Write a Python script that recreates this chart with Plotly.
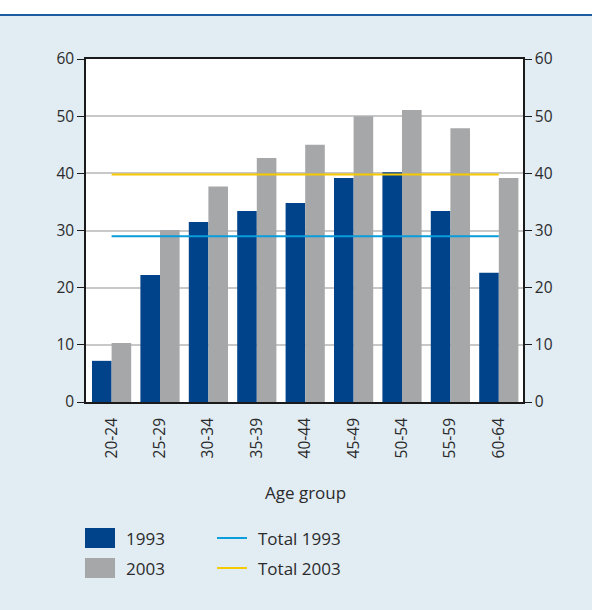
import plotly.graph_objects as go

categories = ["20-24", "25-29", "30-34", "35-39", "40-44", "45-49", "50-54", "55-59", "60-64"]
values_1993 = [7.2, 22.2, 31.5, 33.4, 34.8, 39.2, 40.2, 33.4, 22.6]
values_2003 = [10.3, 30.1, 37.7, 42.7, 45.0, 50.0, 51.1, 47.9, 39.2]
total_1993 = 29.0
total_2003 = 39.8
y_ticks = [0, 10, 20, 30, 40, 50, 60]

FONT = "Open Sans, Noto Sans, sans-serif"
TXT = "#2b2b2b"
BG = "#e1ecf3"
C1993 = "#00438a"
C2003 = "#a6a7a9"
CT1993 = "#0a9ddb"
CT2003 = "#f7c900"

W, H = 592, 610
ML, MR, MT, MB = 86, 69, 59, 208
PW, PH = W - ML - MR, H - MT - MB


def px(x):
    return (x - ML) / PW


def py(y):
    return (H - MB - y) / PH


fig = go.Figure()
fig.add_trace(go.Bar(x=categories, y=values_1993, name="1993", marker_color=C1993,
                     marker_line_width=0, showlegend=False))
fig.add_trace(go.Bar(x=categories, y=values_2003, name="2003", marker_color=C2003,
                     marker_line_width=0, showlegend=False))
fig.add_trace(go.Scatter(x=categories, y=[total_1993] * len(categories), mode="lines",
                         name="Total 1993", line=dict(color=CT1993, width=2), showlegend=False))
fig.add_trace(go.Scatter(x=categories, y=[total_2003] * len(categories), mode="lines",
                         name="Total 2003", line=dict(color=CT2003, width=2), showlegend=False))
fig.add_trace(go.Scatter(x=[categories[0]], y=[0], yaxis="y2", mode="markers",
                         marker=dict(opacity=0), showlegend=False, hoverinfo="skip"))

axis_font = dict(family=FONT, size=15.5, color=TXT)

shapes = [
    dict(type="rect", xref="paper", yref="paper", x0=px(-20), x1=px(W + 20), y0=py(14), y1=py(-20),
         fillcolor="white", line_width=0, layer="below"),
    dict(type="line", xref="paper", yref="paper", x0=px(-20), x1=px(W + 20), y0=py(15), y1=py(15),
         line=dict(color="#1d5c9e", width=2)),
]
annotations = []

legend_items = [
    ("rect", C1993, "1993", 85, 538),
    ("rect", C2003, "2003", 85, 568),
    ("line", CT1993, "Total 1993", 217, 538),
    ("line", CT2003, "Total 2003", 217, 568),
]
for kind, color, label, x0, yc in legend_items:
    if kind == "rect":
        shapes.append(dict(type="rect", xref="paper", yref="paper", x0=px(x0), x1=px(x0 + 30),
                           y0=py(yc + 10), y1=py(yc - 10), fillcolor=color, line_width=0))
    else:
        shapes.append(dict(type="line", xref="paper", yref="paper", x0=px(x0), x1=px(x0 + 30),
                           y0=py(yc), y1=py(yc), line=dict(color=color, width=2)))
    annotations.append(dict(text=label, xref="paper", yref="paper", x=px(x0 + 39), y=py(yc),
                            xanchor="left", yanchor="middle", showarrow=False,
                            font=dict(family=FONT, size=17, color=TXT)))

annotations.append(dict(text="Age group", xref="paper", yref="paper", x=px(305), y=py(492),
                        xanchor="center", yanchor="middle", showarrow=False,
                        font=dict(family=FONT, size=17, color=TXT)))

fig.update_layout(
    width=W, height=H,
    margin=dict(l=ML, r=MR, t=MT, b=MB),
    paper_bgcolor=BG, plot_bgcolor="white",
    font=dict(family=FONT, color=TXT),
    barmode="group", bargap=0.19, bargroupgap=0,
    showlegend=False,
    xaxis=dict(
        type="category", tickangle=-90, tickfont=axis_font,
        showline=True, linecolor="#1a1a1a", linewidth=1.5, mirror=True,
        ticks="outside", ticklen=8, tickcolor="rgba(0,0,0,0)", showgrid=False,
    ),
    yaxis=dict(
        range=[0, 60], tickvals=y_ticks, tickfont=axis_font,
        showline=True, linecolor="#1a1a1a", linewidth=1.5,
        ticks="outside", ticklen=7, tickcolor="#1a1a1a", tickwidth=1.2,
        showgrid=True, gridcolor="#c8c8c8", gridwidth=1.5, zeroline=False,
    ),
    yaxis2=dict(
        range=[0, 60], tickvals=y_ticks, tickfont=axis_font, overlaying="y", side="right",
        showline=True, linecolor="#1a1a1a", linewidth=1.5,
        ticks="outside", ticklen=7, tickcolor="#1a1a1a", tickwidth=1.2,
        showgrid=False, zeroline=False,
    ),
    shapes=shapes,
    annotations=annotations,
)

fig.write_html("out.html", config={"displayModeBar": False},
               post_script="document.body.style.margin='0';")
